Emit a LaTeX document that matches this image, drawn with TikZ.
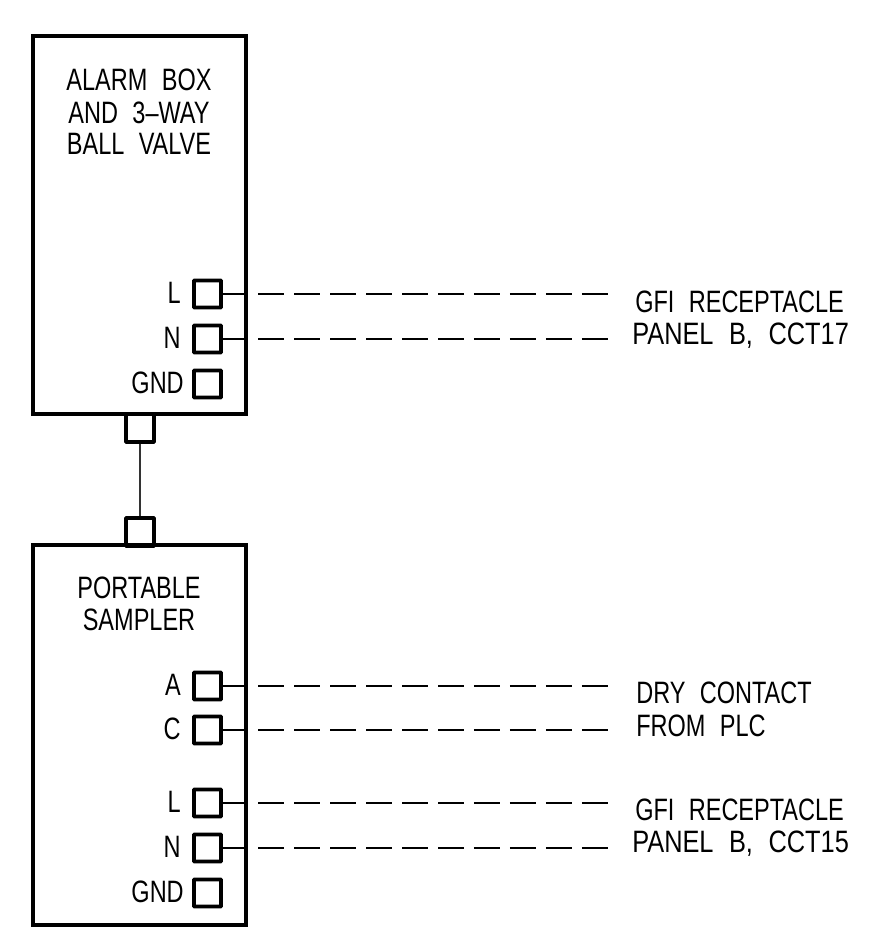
\documentclass[tikz,border=0pt]{standalone}
\usepackage{fontspec}
\newfontfamily\cadfont[FakeStretch=0.76,WordSpace=2.2]{Liberation Sans}
\newfontfamily\cadwide[FakeStretch=0.82,WordSpace=2.2]{Liberation Sans}
\tikzset{
    box/.style={draw,line width=2.8pt,rectangle,inner sep=0pt,minimum width=213*0.025cm,minimum height=#1*0.025cm},
    terminal/.style={draw,line width=2.8pt,rectangle,rounded corners=0.5pt,inner sep=0pt,minimum size=27*0.025cm},
    plug/.style={terminal,minimum size=28*0.025cm},
    txt/.style={inner sep=0pt,font=\cadfont\fontsize{22}{22}\selectfont},
    txtwide/.style={inner sep=0pt,font=\cadwide\fontsize{22}{22}\selectfont},
    wire/.style={line width=1.3pt},
    feed/.style={line width=1.1pt,dash pattern=on 18.5pt off 7.1pt}
}
\newcommand{\terminal}[4]{\node[terminal] (#1) at (207.5,#2) {}; \node[txt,anchor=base east] (#1txt) at (#3,#2+9) {#4};}
\begin{document}
\begin{tikzpicture}[x=0.025cm,y=-0.025cm]
    \useasboundingbox (0,0) rectangle (887,946);
    \node[box=378] (alarm) at (139.5,225) {};
    \node[box=380] (sampler) at (139.5,735) {};
    \node[plug] (plugA) at (140,428) {};
    \node[plug] (plugB) at (140,532) {};
    \draw[wire,black!80] (plugA) -- (plugB);
    % alarm box
    \node[txt,anchor=base] (alarm1) at (139,91) {ALARM BOX};
    \node[txt,anchor=base] (alarm2) at (139,123) {AND 3–WAY};
    \node[txt,anchor=base] (alarm3) at (139,154) {BALL VALVE};
    \terminal{aL}{294}{181}{L} \terminal{aN}{339}{181}{N} \terminal{aG}{384}{184}{GND}
    % sampler
    \node[txt,anchor=base] (sampler1) at (139,598) {PORTABLE};
    \node[txt,anchor=base] (sampler2) at (139,630) {SAMPLER};
    \terminal{sA}{686}{181}{A} \terminal{sC}{730}{181}{C}
    \terminal{sL}{803}{181}{L} \terminal{sN}{848}{181}{N} \terminal{sG}{893}{184}{GND}
    % field wiring
    \foreach \t/\y in {aL/294,aN/339,sA/686,sC/730,sL/803,sN/848}{
        \coordinate (\t a) at (246,\y);
        \coordinate (\t b) at (258,\y);
        \coordinate (\t c) at (608,\y);
        \draw[wire] (\t) -- (\t a);
        \draw[feed] (\t b) -- (\t c);
    }
    % far end labels
    \node[txt,anchor=base west] (gfiA) at (635,312) {GFI RECEPTACLE};
    \node[txtwide,anchor=base west] (panelA) at (632,344) {PANEL B, CCT17};
    \node[txt,anchor=base west] (dry) at (636,703) {DRY CONTACT};
    \node[txt,anchor=base west] (plc) at (636,736) {FROM PLC};
    \node[txt,anchor=base west] (gfiB) at (635,820) {GFI RECEPTACLE};
    \node[txtwide,anchor=base west] (panelB) at (632,852) {PANEL B, CCT15};
\end{tikzpicture}
\end{document}
